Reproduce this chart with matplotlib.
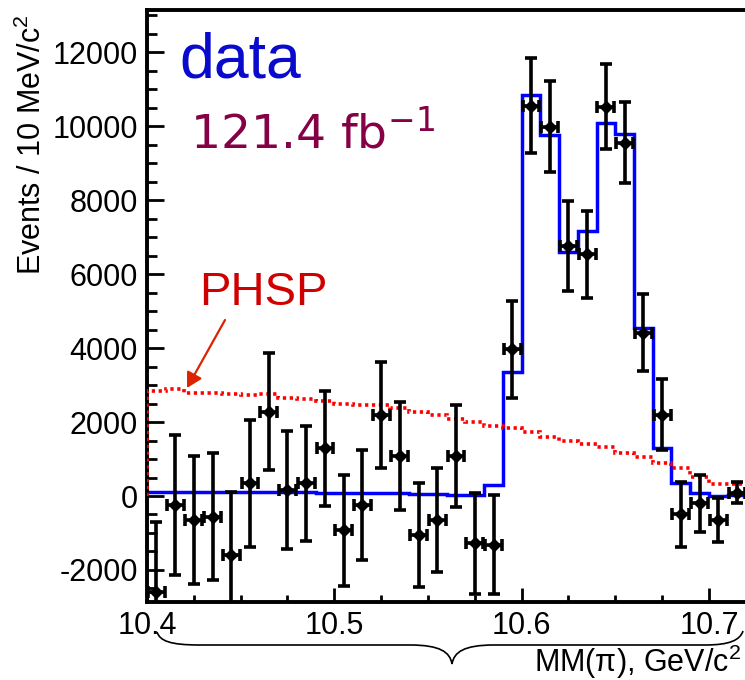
import numpy as np
import matplotlib
matplotlib.use("Agg")
import matplotlib.pyplot as plt
from matplotlib.path import Path
from matplotlib.patches import PathPatch, FancyArrowPatch
from matplotlib.ticker import MultipleLocator

plt.rcParams['font.family'] = ['Liberation Sans', 'DejaVu Sans']
plt.rcParams['axes.unicode_minus'] = False
plt.rcParams['mathtext.fontset'] = 'custom'
plt.rcParams['mathtext.rm'] = 'Liberation Sans'
plt.rcParams['mathtext.it'] = 'Liberation Sans:italic'

# 10 MeV bins of the missing mass MM(pi)
bin_edges = np.round(np.arange(10.40, 10.7201, 0.01), 3)
bin_centers = (bin_edges[:-1] + bin_edges[1:]) / 2

# background-subtracted yield per bin
data_y = [-2590, -240, -650, -560, -1600, 340, 2280, 160, 340, 1290, -920, -240,
          2190, 1080, -1050, -650, 1080, -1280, -1320, 3960, 10550, 9980, 6760, 6530,
          10520, 9550, 4410, 2190, -490, -200, -650, 90]
data_err = [1900, 1890, 1730, 1720, 1710, 1720, 1580, 1590, 1550, 1550, 1500, 1480,
            1440, 1450, 1410, 1400, 1380, 1370, 1340, 1320, 1280, 1230, 1210, 1180,
            1150, 1100, 1040, 960, 880, 770, 590, 290]
half_bin = 0.0045

# fit result
fit_y = [120, 120, 120, 120, 120, 120, 120, 120, 120, 90, 90, 90, 90, 70, 60, 55,
         40, 30, 300, 3360, 10840, 9760, 6600, 7170, 10090, 9780, 4530, 1290, 360,
         70, 10, 20]

# phase-space expectation
phsp_y = [2850, 2880, 2790, 2790, 2770, 2720, 2750, 2640, 2620, 2570, 2500, 2470,
          2470, 2380, 2280, 2200, 2080, 1990, 1880, 1830, 1720, 1600, 1500, 1410,
          1330, 1170, 1050, 900, 750, 520, 320, 320]

W, H = 745, 680
fig = plt.figure(figsize=(W / 100, H / 100), dpi=100)
ax = fig.add_axes([147 / W, 1 - 601.7 / H, 1 - 147 / W, (601.7 - 9.5) / H])

ax.stairs(fit_y, bin_edges, baseline=None, color='#0000FF', lw=2.5, zorder=2)
ax.stairs(phsp_y, bin_edges, baseline=0, color='#FF0000', lw=2.6,
          linestyle=(0, (0.9, 1.0)), zorder=3)
ax.errorbar(bin_centers, data_y, yerr=data_err, xerr=half_bin, fmt='D', color='black',
            ms=6.3, elinewidth=2.6, capsize=4.3, capthick=2.6, zorder=4)

ax.set_xlim(10.4, 10.4 + (W - 147) / 1873)
ax.set_ylim(-2857, 13150)
ax.xaxis.set_major_locator(MultipleLocator(0.1))
ax.xaxis.set_minor_locator(MultipleLocator(0.025))
ax.yaxis.set_major_locator(MultipleLocator(2000))
ax.yaxis.set_minor_locator(MultipleLocator(500))
ax.xaxis.set_major_formatter(plt.FuncFormatter(lambda v, p: f"{v:.1f}"))
ax.tick_params(which='both', direction='in', width=2.0, labelsize=22, color='black')
ax.tick_params(axis='x', which='major', length=10, pad=7)
ax.tick_params(axis='x', which='minor', length=5)
ax.tick_params(axis='y', which='major', length=12, pad=6.5)
ax.tick_params(axis='y', which='minor', length=7)
ax.tick_params(top=False, right=False, which='both')
for side in ('left', 'bottom', 'top'):
    ax.spines[side].set_linewidth(2.8)
ax.spines['right'].set_visible(False)


def fx(x):
    return x / W


def fy(y):
    return 1 - y / H


fig.text(fx(32), fy(145), 'Events / 10 MeV/c$^2$', rotation=90, ha='center', va='center',
         fontsize=22)
fig.text(fx(741), fy(672), 'MM(π), GeV/c$^2$', ha='right', va='baseline', fontsize=22)

fig.text(fx(179), fy(77), 'data', ha='left', va='baseline', fontsize=45, color='#0A0ACD')
fig.text(fx(190), fy(148), r'121.4 fb$^{-1}$', ha='left', va='baseline', fontsize=34,
         color='#850045', family='DejaVu Sans', math_fontfamily='dejavusans')
fig.text(fx(199), fy(305), 'PHSP', ha='left', va='baseline', fontsize=34, color='#D00000')

fig.patches.append(FancyArrowPatch(
    (fx(225), fy(320)), (fx(187), fy(388)), transform=fig.transFigure,
    arrowstyle='-|>,head_length=9,head_width=5', color='#DD2200', lw=1.6,
    shrinkA=0, shrinkB=0))

# curly brace under the mass axis
brace_pts = [(157, 632), (160, 641), (170, 645), (200, 645), (410, 645),
             (440, 645), (450, 652), (452, 664), (454, 652), (464, 645), (494, 645),
             (705, 645), (730, 645), (740, 640), (743, 631)]
codes = [Path.MOVETO, Path.CURVE4, Path.CURVE4, Path.CURVE4, Path.LINETO,
         Path.CURVE4, Path.CURVE4, Path.CURVE4, Path.CURVE4, Path.CURVE4, Path.CURVE4,
         Path.LINETO, Path.CURVE4, Path.CURVE4, Path.CURVE4]
brace = Path([(fx(x), fy(y)) for x, y in brace_pts], codes)
fig.patches.append(PathPatch(brace, transform=fig.transFigure, fill=False,
                             edgecolor='black', lw=1.2))

fig.savefig('out.png', dpi=100)
